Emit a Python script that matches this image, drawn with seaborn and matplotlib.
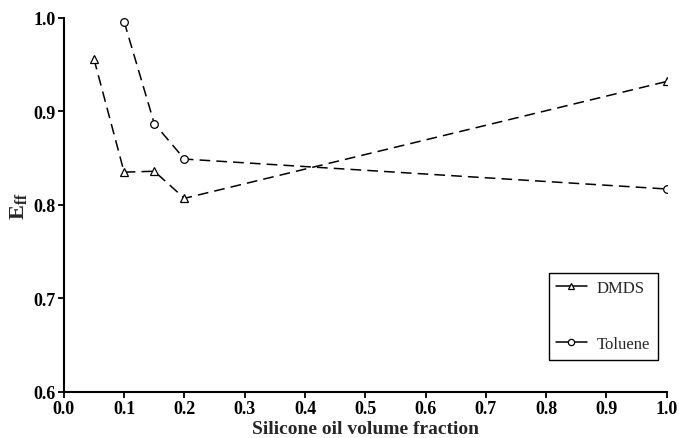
import pandas as pd
import matplotlib
matplotlib.use("Agg")
import matplotlib.pyplot as plt
import seaborn as sns

# Data
dmds_x = [0.05, 0.10, 0.15, 0.20, 1.00]
dmds_eff = [0.956, 0.835, 0.836, 0.807, 0.932]
toluene_x = [0.10, 0.15, 0.20, 1.00]
toluene_eff = [0.996, 0.887, 0.849, 0.817]

dmds = pd.DataFrame({"fraction": dmds_x, "eff": dmds_eff})
toluene = pd.DataFrame({"fraction": toluene_x, "eff": toluene_eff})

sns.set_style("ticks")
plt.rcParams["font.family"] = ["Liberation Serif", "DejaVu Serif"]
plt.rcParams["mathtext.fontset"] = "custom"
plt.rcParams["mathtext.rm"] = "Liberation Serif:bold"

fig = plt.figure(figsize=(6.79, 4.39), dpi=100)
ax = fig.add_axes([0.094, 0.105, 0.888, 0.852])

style = dict(color="black", linewidth=1.1, markersize=5.5, markerfacecolor="white",
             markeredgecolor="black", markeredgewidth=0.9, dashes=(7, 4))
sns.lineplot(data=dmds, x="fraction", y="eff", marker="^", label="DMDS", ax=ax, **style)
sns.lineplot(data=toluene, x="fraction", y="eff", marker="o", label="Toluene", ax=ax, **style)

ax.set_xlim(0.0, 1.0)
ax.set_ylim(0.6, 1.0)
ax.set_xticks([i / 10 for i in range(11)])
ax.set_yticks([0.6, 0.7, 0.8, 0.9, 1.0])
ax.set_xticklabels([f"{i / 10:.1f}" for i in range(11)], fontweight="bold", fontsize=13)
ax.set_yticklabels(["0.6", "0.7", "0.8", "0.9", "1.0"], fontweight="bold", fontsize=13)
ax.set_xlabel("Silicone oil volume fraction", fontweight="bold", fontsize=14, labelpad=2)
ax.set_ylabel(r"E$_{\mathrm{ff}}$", fontweight="bold", fontsize=16, labelpad=2)

sns.despine(ax=ax)
for s in ["left", "bottom"]:
    ax.spines[s].set_linewidth(1.5)
    ax.spines[s].set_color("black")
ax.tick_params(axis="both", direction="out", length=4, width=1.3, colors="black", pad=2)

leg = ax.legend(loc="lower right", bbox_to_anchor=(0.985, 0.086), borderaxespad=0,
                frameon=True, fancybox=False, edgecolor="black", fontsize=12,
                handlelength=1.85, handletextpad=0.6, labelspacing=2.4,
                borderpad=0.45, framealpha=1)
leg.get_frame().set_linewidth(1.0)
for line in leg.get_lines():
    line.set_linestyle("-")
    line.set_markersize(4.5)

fig.savefig("out.png", dpi=100)
